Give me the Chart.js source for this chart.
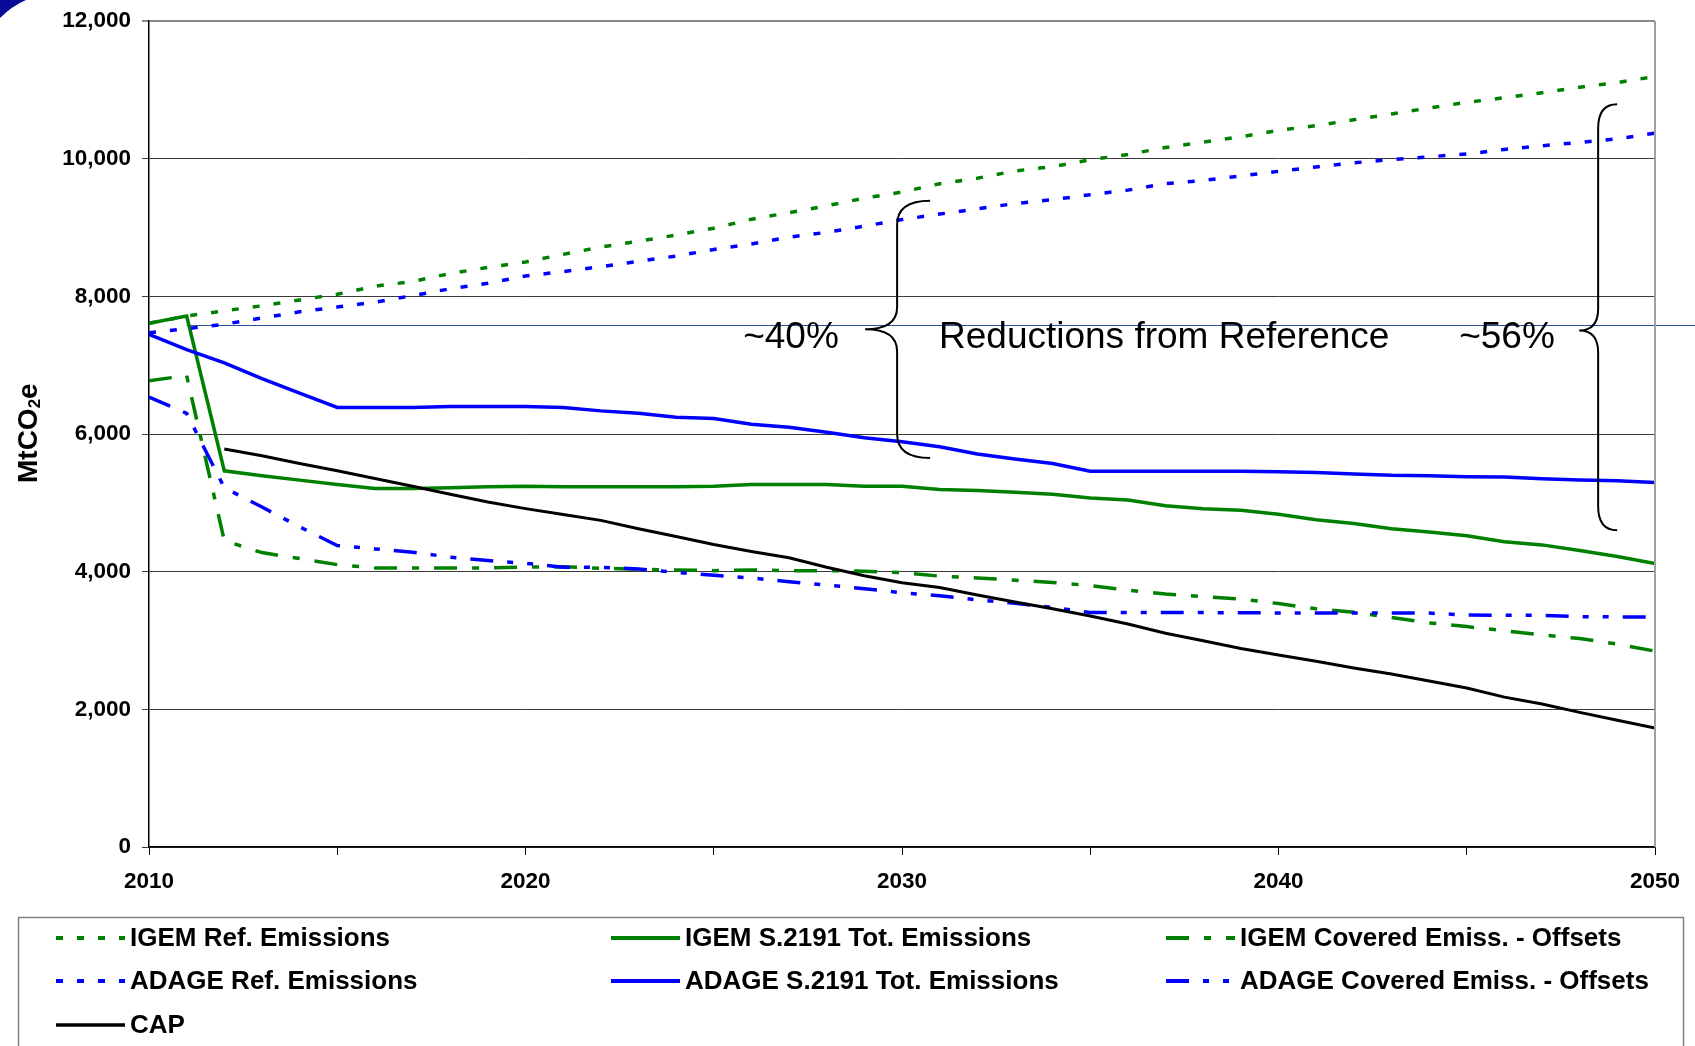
<!DOCTYPE html>
<html lang="en">
<head>
    <meta charset="UTF-8">
    <title>MtCO2e - S.2191</title>
    <script src="https://cdn.jsdelivr.net/npm/chart.js"></script>
    <style>
        body { margin: 0; background: #fff; }
    </style>
</head>
<body>
    <canvas id="grafico1" width="1695" height="1046"></canvas>

    <script>
        const ctx = document.getElementById('grafico1');
        const FONT = '"Liberation Sans", Arial, sans-serif';

        // anos
        const anos = Array.from({ length: 41 }, (_, i) => 2010 + i);

        const igemRef = [7607, 7713, 7790, 7862, 7948, 8030, 8147, 8215, 8332, 8420,
            8500, 8610, 8715, 8800, 8890, 8990, 9120, 9215, 9315, 9427,
            9515, 9635, 9716, 9822, 9883, 9984, 10061, 10162, 10240, 10318,
            10412, 10480, 10565, 10650, 10737, 10818, 10885, 10958, 11039, 11106, 11193];
        const igemTot = [7607, 7713, 5465, 5393, 5330, 5267, 5208, 5208, 5218, 5232,
            5240, 5235, 5235, 5235, 5235, 5241, 5265, 5265, 5265, 5241,
            5241, 5195, 5180, 5152, 5124, 5069, 5041, 4957, 4913, 4891,
            4835, 4755, 4700, 4624, 4577, 4523, 4436, 4389, 4308, 4221, 4120];
        const igemCov = [6774, 6848, 4450, 4277, 4190, 4102, 4054, 4054, 4054, 4054,
            4068, 4070, 4050, 4035, 4025, 4015, 4025, 4015, 4015, 4006,
            3986, 3935, 3909, 3876, 3842, 3798, 3731, 3675, 3636, 3603,
            3536, 3460, 3410, 3336, 3256, 3202, 3142, 3081, 3028, 2947, 2846];
        const adageRef = [7470, 7530, 7595, 7685, 7775, 7845, 7915, 8010, 8110, 8190,
            8295, 8360, 8430, 8510, 8585, 8680, 8760, 8860, 8930, 9020,
            9115, 9195, 9270, 9348, 9404, 9477, 9543, 9638, 9683, 9749,
            9816, 9880, 9940, 9987, 10027, 10067, 10134, 10188, 10235, 10289, 10370];
        const adageTot = [7446, 7227, 7033, 6803, 6594, 6385, 6385, 6385, 6400, 6400,
            6400, 6385, 6336, 6302, 6244, 6225, 6142, 6098, 6025, 5947,
            5888, 5815, 5710, 5637, 5571, 5459, 5459, 5459, 5459, 5459,
            5450, 5440, 5420, 5400, 5394, 5380, 5375, 5350, 5330, 5320, 5294];
        const adageCov = [6536, 6300, 5220, 4939, 4652, 4380, 4331, 4283, 4210, 4161,
            4122, 4064, 4064, 4040, 3991, 3947, 3908, 3855, 3806, 3752,
            3694, 3650, 3591, 3541, 3480, 3407, 3407, 3405, 3405, 3403,
            3400, 3400, 3400, 3400, 3398, 3370, 3367, 3367, 3345, 3343, 3343];
        const cap = [null, null, 5781, 5684, 5572, 5465, 5353, 5242, 5125, 5013,
            4916, 4830, 4745, 4624, 4512, 4395, 4293, 4201, 4064, 3942,
            3840, 3770, 3660, 3560, 3460, 3357, 3240, 3106, 2995, 2884,
            2790, 2700, 2600, 2512, 2412, 2311, 2177, 2077, 1956, 1842, 1728];

        const rotulos = ['IGEM Ref. Emissions', 'IGEM S.2191 Tot. Emissions', 'IGEM Covered Emiss. - Offsets',
            'ADAGE Ref. Emissions', 'ADAGE S.2191 Tot. Emissions', 'ADAGE Covered Emiss. - Offsets', 'CAP'];
        const yTicks = [0, 2000, 4000, 6000, 8000, 10000, 12000];
        const xTicks = [2010, 2020, 2030, 2040, 2050];

        const VERDE = '#008000';
        const AZUL = '#0000ff';
        const pontilhado = [7, 14];
        const traco1 = [23, 15, 7, 15];
        const traco2 = [23, 14, 6, 14, 6, 14];

        const serie = (vals) => anos.map((a, i) => ({ x: a, y: vals[i] })).filter(p => p.y !== null);

        const linha = (label, vals, cor, dash, largura, ordem) => ({
            label: label,
            data: serie(vals),
            borderColor: cor,
            backgroundColor: cor,
            borderWidth: largura,
            borderDash: dash,
            pointRadius: 0,
            tension: 0,
            fill: false,
            order: ordem
        });

        const datasets = [
            linha(rotulos[0], igemRef, VERDE, pontilhado, 3.5, 7),
            linha(rotulos[1], igemTot, VERDE, [], 3.5, 6),
            linha(rotulos[2], igemCov, VERDE, traco1, 3.5, 5),
            linha(rotulos[3], adageRef, AZUL, pontilhado, 3.5, 4),
            linha(rotulos[4], adageTot, AZUL, [], 3.5, 3),
            linha(rotulos[5], adageCov, AZUL, traco2, 3.5, 2),
            linha(rotulos[6], cap, '#000000', [], 3, 1)
        ];

        // chaves, textos, legenda etc.
        const extras = {
            id: 'extras',
            beforeDatasetsDraw(chart) {
                const c = chart.ctx;
                const xs = chart.scales.x, ys = chart.scales.y;
                // linha fina azul
                c.save();
                c.strokeStyle = '#2c4f9a';
                c.lineWidth = 1.2;
                c.beginPath();
                const yl = Math.round(ys.getPixelForValue(7590)) + 0.5;
                c.moveTo(xs.getPixelForValue(2011), yl);
                c.lineTo(chart.width, yl);
                c.stroke();
                c.restore();
            },
            afterDraw(chart) {
                const c = chart.ctx;
                const xs = chart.scales.x, ys = chart.scales.y;
                const area = chart.chartArea;
                c.save();

                // canto azul
                c.fillStyle = '#0b0b9a';
                c.beginPath();
                c.moveTo(0, 0);
                c.lineTo(26, 0);
                c.quadraticCurveTo(12, 6, 0, 18);
                c.closePath();
                c.fill();

                // borda direita
                c.strokeStyle = '#a0a0a0';
                c.lineWidth = 2;
                c.beginPath();
                c.moveTo(area.right, area.top);
                c.lineTo(area.right, area.bottom);
                c.stroke();

                // chaves
                const chave = (ano, vTop, vMid, vBot, gancho, ponta) => {
                    const x = xs.getPixelForValue(ano);
                    const t = ys.getPixelForValue(vTop), m = ys.getPixelForValue(vMid), b = ys.getPixelForValue(vBot);
                    const r = 24, r2 = 22;
                    c.strokeStyle = '#000';
                    c.lineWidth = 2;
                    c.beginPath();
                    c.moveTo(x + gancho, t);
                    c.quadraticCurveTo(x, t, x, t + r);
                    c.lineTo(x, m - r2);
                    c.quadraticCurveTo(x, m, x - ponta, m);
                    c.quadraticCurveTo(x, m, x, m + r2);
                    c.lineTo(x, b - r);
                    c.quadraticCurveTo(x, b, x + gancho, b);
                    c.stroke();
                };
                chave(2029.87, 9390, 7520, 5650, 33, 32);
                chave(2048.49, 10790, 7505, 4600, 19, 19);

                // textos
                c.fillStyle = '#000';
                c.font = '37px ' + FONT;
                c.textBaseline = 'alphabetic';
                c.textAlign = 'center';
                c.fillText('~40%', 791, 348);
                c.fillText('~56%', 1507, 348);
                c.textAlign = 'left';
                c.fillText('Reductions from Reference', 939, 348);

                // titulo do eixo y
                c.save();
                c.translate(37, 483);
                c.rotate(-Math.PI / 2);
                c.textAlign = 'left';
                c.font = 'bold 28px ' + FONT;
                c.fillText('MtCO', 0, 0);
                let w = c.measureText('MtCO').width;
                c.font = 'bold 17px ' + FONT;
                c.fillText('2', w, 3);
                w += c.measureText('2').width;
                c.font = 'bold 28px ' + FONT;
                c.fillText('e', w, 0);
                c.restore();

                // legenda
                c.strokeStyle = '#808080';
                c.lineWidth = 1.5;
                c.strokeRect(18.5, 917.5, 1665, 200);
                const colX = [56, 611, 1166];
                const linY = [938, 981, 1025];
                const grade = [[0, 1, 2], [3, 4, 5], [6]];
                c.font = 'bold 26px ' + FONT;
                c.textBaseline = 'middle';
                grade.forEach((linhaG, r) => {
                    linhaG.forEach((idx, k) => {
                        const ds = chart.data.datasets[idx];
                        const x0 = colX[k], y0 = linY[r];
                        c.save();
                        c.strokeStyle = ds.borderColor;
                        c.lineWidth = ds.borderWidth + 0.5;
                        c.setLineDash(ds.borderDash);
                        c.beginPath();
                        c.moveTo(x0, y0);
                        c.lineTo(x0 + 69, y0);
                        c.stroke();
                        c.restore();
                        c.fillStyle = '#000';
                        c.fillText(ds.label, x0 + 74, y0 + 1);
                    });
                });
                c.restore();
            }
        };

        const fonteEixo = { family: FONT, size: 22.5, weight: 'bold' };

        let grafico1 = new Chart(ctx, {
            type: 'line',
            data: { datasets: datasets },
            options: {
                responsive: false,
                animation: false,
                layout: { padding: { left: 0, right: 40, top: 21, bottom: 0 }, autoPadding: false },
                plugins: {
                    legend: { display: false },
                    tooltip: { enabled: false }
                },
                scales: {
                    x: {
                        type: 'linear',
                        min: 2010,
                        max: 2050,
                        afterFit: s => {
                            s.height = 199;
                            s.paddingLeft = 0;
                            s.paddingRight = 0;
                        },
                        afterBuildTicks: s => {
                            s.ticks = [];
                            for (let a = 2010; a <= 2050; a += 5) s.ticks.push({ value: a });
                        },
                        ticks: {
                            autoSkip: false,
                            maxRotation: 0,
                            padding: 13,
                            color: '#000',
                            font: fonteEixo,
                            callback: v => xTicks.includes(v) ? String(v) : ''
                        },
                        grid: { drawOnChartArea: false, drawTicks: true, tickLength: 8, color: '#000', lineWidth: 1 },
                        border: { color: '#000', width: 1.5 }
                    },
                    y: {
                        min: 0,
                        max: 12000,
                        afterFit: s => {
                            s.width = 149;
                            s.paddingTop = 0;
                            s.paddingBottom = 0;
                        },
                        afterBuildTicks: s => { s.ticks = yTicks.map(v => ({ value: v })); },
                        ticks: {
                            padding: 11,
                            color: '#000',
                            font: fonteEixo,
                            callback: v => v.toLocaleString('en-US')
                        },
                        grid: {
                            color: c => (c.tick && c.tick.value === 12000) ? '#8a8a8a' : '#3a3a3a',
                            lineWidth: c => (c.tick && c.tick.value === 12000) ? 2 : 1,
                            tickLength: 7
                        },
                        border: { color: '#000', width: 1.5 }
                    }
                }
            },
            plugins: [extras]
        });
    </script>
</body>
</html>
